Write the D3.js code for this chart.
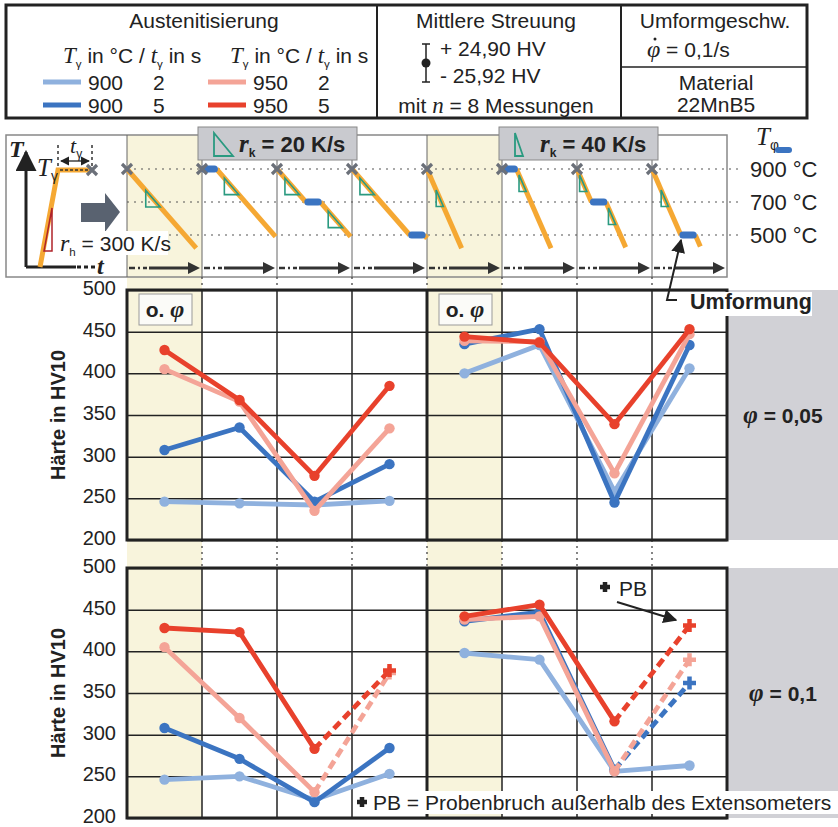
<!DOCTYPE html>
<html>
<head>
<meta charset="utf-8">
<script src="https://cdn.jsdelivr.net/npm/d3@7"></script>
<style>
  body { margin: 0; background: #fff; }
  svg { display: block; }
  text { font-family: "Liberation Sans", Arial, sans-serif; fill: #222; }
  .serif { font-family: "Liberation Serif", "DejaVu Serif", serif; font-style: italic; }
</style>
</head>
<body>
<svg></svg>
<script>
var width = 838;
var height = 827;

// series: austenitisation temperature / time
var seriesTemp = [900, 900, 950, 950];
var seriesTime = [2, 5, 2, 5];
var seriesColors = ['#8fb1de', '#3b74c1', '#f4a497', '#e8412c'];

// hardness values, one row per series, one value per process column
var hv005_rk20 = [[246, 244, 242, 247], [308, 335, 246, 291], [405, 366, 235, 334], [428, 368, 277, 385]];
var hv005_rk40 = [[400, 434, 258, 406], [435, 453, 245, 434], [439, 438, 280, 447], [444, 437, 339, 453]];
var hv01_rk20  = [[246, 250, 222, 253], [308, 271, 219, 284], [405, 320, 231, 374], [428, 423, 283, 377]];
var hv01_rk40  = [[398, 390, 256, 263], [436, 447, 258, 362], [438, 442, 256, 390], [442, 456, 316, 431]];
// Probenbruch (sample broke outside extensometer) on last column
var pb005_rk20 = [false, false, false, false];
var pb005_rk40 = [false, false, false, false];
var pb01_rk20  = [false, false, true, true];
var pb01_rk40  = [false, true, true, true];

var hvTicks = [200, 250, 300, 350, 400, 450, 500];
var tempTicks = [900, 700, 500];

// process schedule per column
var procPhiT = [null, 900, 700, 500, null, 900, 700, 500];
var procEndT = [420, 490, 490, 480, 420, 420, 425, 430];
var procRate = [20, 20, 20, 20, 40, 40, 40, 40];
var holdTime = 5;

var svg = d3.select('svg')
    .attr('width', width)
    .attr('height', height);

var defs = svg.append('defs');
defs.append('marker')
    .attr('id', 'arr')
    .attr('viewBox', '0 0 10 10')
    .attr('refX', 9).attr('refY', 5)
    .attr('markerWidth', 7).attr('markerHeight', 7)
    .attr('orient', 'auto-start-reverse')
  .append('path')
    .attr('d', 'M0,0 L10,5 L0,10 z')
    .attr('fill', '#222');

// helper for text with italic serif parts and subscripts
function rich(g, x, y, parts, opts) {
  opts = opts || {};
  var size = opts.size || 21;
  var t = g.append('text')
      .attr('x', x).attr('y', y)
      .attr('font-size', size)
      .attr('font-weight', opts.bold ? 'bold' : null)
      .attr('text-anchor', opts.anchor || 'start');
  var shift = 0;
  parts.forEach(function(p) {
    var s = t.append('tspan').text(p.t);
    var dy = 0;
    if (p.sub) { dy = 5 - shift; shift = 5; s.attr('font-size', size * 0.55); }
    else if (shift) { dy = -shift; shift = 0; }
    if (dy) s.attr('dy', dy);
    if (p.it) s.attr('class', 'serif');
    if (p.size) s.attr('font-size', p.size);
  });
  return t;
}

function plus(g, x, y, r, color) {
  g.append('path')
      .attr('d', 'M' + (x - r) + ',' + y + 'H' + (x + r) + 'M' + x + ',' + (y - r) + 'V' + (y + r))
      .attr('stroke', color)
      .attr('stroke-width', 4.5)
      .attr('fill', 'none');
}

// ---------- header table ----------
var head = svg.append('g');
head.append('rect')
    .attr('x', 6).attr('y', 5).attr('width', 801).attr('height', 113)
    .attr('fill', '#fff').attr('stroke', '#222').attr('stroke-width', 3);
head.selectAll('line.div')
    .data([377, 621])
    .enter().append('line')
    .attr('x1', function(d) { return d; }).attr('x2', function(d) { return d; })
    .attr('y1', 5).attr('y2', 118)
    .attr('stroke', '#222').attr('stroke-width', 2);
head.append('line')
    .attr('x1', 621).attr('x2', 807).attr('y1', 67).attr('y2', 67)
    .attr('stroke', '#222').attr('stroke-width', 1.5);

head.append('text').attr('x', 204).attr('y', 28).attr('font-size', 21)
    .attr('text-anchor', 'middle').text('Austenitisierung');
[63, 230].forEach(function(x) {
  rich(head, x, 63, [{t: 'T', it: true, size: 23}, {t: 'γ', sub: true}, {t: ' in °C / '},
                     {t: 't', it: true, size: 23}, {t: 'γ', sub: true}, {t: ' in s'}]);
});

var legend = head.selectAll('g.leg')
    .data(d3.range(4))
    .enter().append('g')
    .attr('transform', function(i) {
      return 'translate(' + (i < 2 ? 43 : 208) + ',' + (i % 2 ? 113 : 90) + ')';
    });
legend.append('line')
    .attr('x1', 0).attr('x2', 38).attr('y1', -8).attr('y2', -8)
    .attr('stroke', function(i) { return seriesColors[i]; })
    .attr('stroke-width', 5);
legend.append('text').attr('x', 45).attr('font-size', 21)
    .text(function(i) { return seriesTemp[i]; });
legend.append('text').attr('x', 110).attr('font-size', 21)
    .text(function(i) { return seriesTime[i]; });

head.append('text').attr('x', 496).attr('y', 28).attr('font-size', 21)
    .attr('text-anchor', 'middle').text('Mittlere Streuung');
head.append('path')
    .attr('d', 'M422,44H430M426,44V82M422,82H430')
    .attr('stroke', '#222').attr('stroke-width', 1.5).attr('fill', 'none');
head.append('circle').attr('cx', 426).attr('cy', 63).attr('r', 4.5).attr('fill', '#222');
head.append('text').attr('x', 440).attr('y', 56).attr('font-size', 21).text('+ 24,90 HV');
head.append('text').attr('x', 440).attr('y', 83).attr('font-size', 21).text('- 25,92 HV');
rich(head, 496, 113, [{t: 'mit '}, {t: 'n', it: true, size: 23}, {t: ' = 8 Messungen'}], {anchor: 'middle'});

head.append('text').attr('x', 715).attr('y', 28).attr('font-size', 21)
    .attr('text-anchor', 'middle').text('Umformgeschw.');
rich(head, 647, 57, [{t: 'φ', it: true, size: 24}, {t: ' = 0,1/s'}]);
head.append('circle').attr('cx', 655).attr('cy', 39).attr('r', 1.5).attr('fill', '#222');
head.append('text').attr('x', 716).attr('y', 90).attr('font-size', 21)
    .attr('text-anchor', 'middle').text('Material');
head.append('text').attr('x', 716).attr('y', 112).attr('font-size', 21)
    .attr('text-anchor', 'middle').text('22MnB5');

// ---------- scales ----------
var x = d3.scaleBand().domain(d3.range(8)).range([127, 727]);
var yT = d3.scaleLinear().domain([500, 900]).range([235, 169]);
var yTop = d3.scaleLinear().domain([200, 500]).range([540, 290]);
var yBot = d3.scaleLinear().domain([200, 500]).range([818, 568]);

// yellow reference columns
svg.selectAll('rect.ref')
    .data([0, 4])
    .enter().append('rect')
    .attr('x', function(d) { return x(d); })
    .attr('y', 135)
    .attr('width', x.bandwidth())
    .attr('height', 818 - 135)
    .attr('fill', '#f8f4dc');

// ---------- process strip ----------
var strip = svg.append('g');
strip.append('rect')
    .attr('x', 6).attr('y', 135).attr('width', 721).attr('height', 142)
    .attr('fill', 'none').attr('stroke', '#888').attr('stroke-width', 1.5);
strip.selectAll('line.col')
    .data(d3.range(8))
    .enter().append('line')
    .attr('x1', function(d) { return x(d); }).attr('x2', function(d) { return x(d); })
    .attr('y1', 135).attr('y2', 277)
    .attr('stroke', '#666').attr('stroke-width', 1);
strip.selectAll('line.temp')
    .data(tempTicks)
    .enter().append('line')
    .attr('x1', 127).attr('x2', 743)
    .attr('y1', function(d) { return yT(d); }).attr('y2', function(d) { return yT(d); })
    .attr('stroke', '#555').attr('stroke-width', 1.2).attr('stroke-dasharray', '2,5');
strip.selectAll('text.temp')
    .data(tempTicks)
    .enter().append('text')
    .attr('x', 750).attr('y', function(d) { return yT(d) + 8; })
    .attr('font-size', 22)
    .text(function(d) { return d + ' °C'; });
rich(strip, 756, 145, [{t: 'T', it: true}, {t: 'φ', sub: true}], {size: 25});
strip.append('line').attr('x1', 778).attr('x2', 789).attr('y1', 150).attr('y2', 150)
    .attr('stroke', '#3b74c1').attr('stroke-width', 6).attr('stroke-linecap', 'round');

// left sketch: heating
strip.append('path').attr('d', 'M26,267V152').attr('stroke', '#222').attr('stroke-width', 3)
    .attr('marker-end', 'url(#arr)');
strip.append('path').attr('d', 'M26,267H76').attr('stroke', '#222').attr('stroke-width', 3);
strip.append('path').attr('d', 'M77,267H95').attr('stroke', '#222').attr('stroke-width', 3)
    .attr('stroke-dasharray', '4,3');
rich(strip, 9, 157, [{t: 'T', it: true}], {size: 24, bold: true});
rich(strip, 97, 274, [{t: 't', it: true}], {size: 24, bold: true});
strip.append('path').attr('d', 'M40,267L58,170H90')
    .attr('stroke', '#f5a833').attr('stroke-width', 5).attr('fill', 'none');
strip.append('path').attr('d', 'M60,170H90')
    .attr('stroke', '#333').attr('stroke-width', 1.5).attr('stroke-dasharray', '3,2');
strip.append('path').attr('d', 'M44,251H52V208Z')
    .attr('stroke', '#b0232a').attr('stroke-width', 1.5).attr('fill', 'none');
rich(strip, 37, 176, [{t: 'T', it: true}, {t: 'γ', sub: true}], {size: 25});
strip.append('path').attr('d', 'M58,145V166M92,145V166')
    .attr('stroke', '#333').attr('stroke-width', 1.5).attr('stroke-dasharray', '3,3');
strip.append('path').attr('d', 'M61,161H89')
    .attr('stroke', '#222').attr('stroke-width', 1.3)
    .attr('marker-end', 'url(#arr)').attr('marker-start', 'url(#arr)');
rich(strip, 70, 153, [{t: 't', it: true}, {t: 'γ', sub: true}], {size: 22});
strip.append('path').attr('d', 'M81,203H105V193L120,212L105,232V222H81Z').attr('fill', '#596270');
strip.append('rect').attr('x', 58).attr('y', 231).attr('width', 110).attr('height', 24).attr('fill', '#fff');
rich(strip, 60, 251, [{t: 'r', it: true, size: 24}, {t: 'h', sub: true}, {t: ' = 300 K/s'}], {size: 21});

function cross(g, cx, cy) {
  g.append('path')
      .attr('d', 'M' + (cx - 5) + ',' + (cy - 5) + 'L' + (cx + 5) + ',' + (cy + 5) +
                 'M' + (cx - 5) + ',' + (cy + 5) + 'L' + (cx + 5) + ',' + (cy - 5))
      .attr('stroke', '#6b7079').attr('stroke-width', 3.2);
}
cross(strip, 92, 170);

// cooling paths per column
var triOffset = [130, 55, 55, 55, 127, 36, 36, 127];
d3.range(8).forEach(function(i) {
  var tx = d3.scaleLinear().domain([0, 26]).range([x(i), x(i) + x.bandwidth()]);
  var rate = procRate[i];
  var segs = [], holds = [];
  var t = 0, T = 900;
  if (procPhiT[i] !== null) {
    var tc = (T - procPhiT[i]) / rate;
    if (tc > 0) segs.push({t0: t, T0: T, T1: procPhiT[i]});
    t += tc; T = procPhiT[i];
    holds.push({t0: t, T: T});
    t += holdTime;
  }
  segs.push({t0: t, T0: T, T1: procEndT[i]});

  segs.forEach(function(s) {
    var t1 = s.t0 + (s.T0 - s.T1) / rate;
    strip.append('line')
        .attr('x1', tx(s.t0)).attr('y1', yT(s.T0))
        .attr('x2', tx(t1)).attr('y2', yT(s.T1))
        .attr('stroke', '#f5a833').attr('stroke-width', 5);
    var off = triOffset[i];
    var TA = s.T0 - off, TB = TA - 100;
    if (TB >= s.T1) {
      var tA = s.t0 + off / rate, tB = tA + 100 / rate;
      strip.append('path')
          .attr('d', 'M' + tx(tA) + ',' + yT(TA) + 'L' + tx(tA) + ',' + yT(TB) + 'L' + tx(tB) + ',' + yT(TB) + 'Z')
          .attr('fill', 'none').attr('stroke', '#2a9a80').attr('stroke-width', 1.6);
    }
  });
  holds.forEach(function(h) {
    strip.append('line')
        .attr('x1', tx(h.t0) + 2).attr('x2', tx(h.t0 + holdTime) - 2)
        .attr('y1', yT(h.T)).attr('y2', yT(h.T))
        .attr('stroke', '#3b74c1').attr('stroke-width', 7).attr('stroke-linecap', 'round');
  });
  cross(strip, x(i), yT(900));

  // time arrow
  var x0 = x(i);
  strip.append('path').attr('d', 'M' + (x0 + 2) + ',268H' + (x0 + 20))
      .attr('stroke', '#333').attr('stroke-width', 2.5).attr('stroke-dasharray', '6,3,2,3');
  strip.append('path').attr('d', 'M' + (x0 + 22) + ',268H' + (x0 + 62))
      .attr('stroke', '#333').attr('stroke-width', 3);
  strip.append('path')
      .attr('d', 'M' + (x0 + 61) + ',262L' + (x0 + 73) + ',268L' + (x0 + 61) + ',274Z')
      .attr('fill', '#333');
});

// rate label boxes
[{x0: 198, rate: 20, w: 19}, {x0: 499, rate: 40, w: 8}].forEach(function(b) {
  var g = svg.append('g');
  g.append('rect').attr('x', b.x0).attr('y', 127).attr('width', 159).attr('height', 33)
      .attr('fill', '#c9cacf').attr('stroke', '#888').attr('stroke-width', 1);
  g.append('path')
      .attr('d', 'M' + (b.x0 + 16) + ',133V156H' + (b.x0 + 16 + b.w) + 'Z')
      .attr('fill', 'none').attr('stroke', '#2a9a80').attr('stroke-width', 1.8);
  rich(g, b.x0 + 41, 152, [{t: 'r', it: true, size: 25}, {t: 'k', sub: true}, {t: ' = ' + b.rate + ' K/s'}],
       {size: 22, bold: true});
});

// dotted connectors between strip and charts
var connectors = [1, 2, 3, 4, 5, 6, 7];
[[277, 290], [540, 568]].forEach(function(r) {
  svg.selectAll(null)
      .data(connectors)
      .enter().append('line')
      .attr('x1', function(d) { return x(d); }).attr('x2', function(d) { return x(d); })
      .attr('y1', r[0]).attr('y2', r[1])
      .attr('stroke', '#444').attr('stroke-width', 1.3).attr('stroke-dasharray', '2,4');
});

// ---------- hardness panels ----------
function panel(y, dataL, dataR, pbL, pbR, phiLabel, showNoPhi) {
  var g = svg.append('g');
  var top = y.range()[1], bottom = y.range()[0];

  g.append('rect')
      .attr('x', 728).attr('y', top).attr('width', 110).attr('height', bottom - top)
      .attr('fill', '#d1d1d6');
  rich(g, 783, (top + bottom) / 2 + 8, [{t: 'φ', it: true, size: 25}, {t: ' = ' + phiLabel}],
       {size: 21, bold: true, anchor: 'middle'});

  g.append('g')
      .attr('transform', 'translate(127,0)')
      .call(d3.axisLeft(y).tickValues(hvTicks).tickSize(-600).tickFormat(''))
      .call(function(a) { a.select('.domain').remove(); })
      .selectAll('line').attr('stroke', '#222').attr('stroke-width', 1.5);
  g.selectAll('line.vg')
      .data([1, 2, 3, 5, 6, 7])
      .enter().append('line')
      .attr('x1', function(d) { return x(d); }).attr('x2', function(d) { return x(d); })
      .attr('y1', top).attr('y2', bottom)
      .attr('stroke', '#222').attr('stroke-width', 1.5);
  g.append('rect')
      .attr('x', 127).attr('y', top).attr('width', 600).attr('height', bottom - top)
      .attr('fill', 'none').attr('stroke', '#222').attr('stroke-width', 3);
  g.append('line')
      .attr('x1', 427).attr('x2', 427).attr('y1', top).attr('y2', bottom)
      .attr('stroke', '#222').attr('stroke-width', 3);

  g.append('g')
      .attr('transform', 'translate(127,0)')
      .call(d3.axisLeft(y).tickValues(hvTicks).tickSize(0).tickPadding(11))
      .call(function(a) { a.select('.domain').remove(); })
      .selectAll('text')
      .attr('font-size', 20).attr('fill', '#333').attr('dy', '0.22em')
      .style('font-family', '"Liberation Sans", Arial, sans-serif');

  g.append('text')
      .attr('transform', 'translate(65,' + ((top + bottom) / 2) + ') rotate(-90)')
      .attr('text-anchor', 'middle').attr('font-size', 20).attr('font-weight', 'bold')
      .text('Härte in HV10');

  if (showNoPhi) {
    [0, 4].forEach(function(c) {
      var bx = x(c) + 12;
      g.append('rect').attr('x', bx).attr('y', top + 4).attr('width', 53).attr('height', 31)
          .attr('fill', '#fbfbf8').attr('stroke', '#999').attr('stroke-width', 1);
      rich(g, bx + 26, top + 27, [{t: 'o. '}, {t: 'φ', it: true, size: 24}], {size: 21, bold: true, anchor: 'middle'});
    });
  }

  [[dataL, pbL, 0], [dataR, pbR, 4]].forEach(function(grp) {
    var data = grp[0], pb = grp[1], off = grp[2];
    var cx = function(j) { return x(j + off) + x.bandwidth() / 2; };
    data.forEach(function(vals, s) {
      var color = seriesColors[s];
      var line = d3.line()
          .x(function(d, j) { return cx(j); })
          .y(function(d) { return y(d); });
      g.append('path')
          .attr('d', line(vals.slice(0, 3)))
          .attr('fill', 'none').attr('stroke', color).attr('stroke-width', 4.8)
          .attr('stroke-linejoin', 'round');
      g.append('line')
          .attr('x1', cx(2)).attr('y1', y(vals[2]))
          .attr('x2', cx(3)).attr('y2', y(vals[3]))
          .attr('stroke', color).attr('stroke-width', 4.8)
          .attr('stroke-dasharray', pb[s] ? '9,5' : null);
      g.selectAll(null)
          .data(pb[s] ? vals.slice(0, 3) : vals)
          .enter().append('circle')
          .attr('cx', function(d, j) { return cx(j); })
          .attr('cy', function(d) { return y(d); })
          .attr('r', 5.2).attr('fill', color);
      if (pb[s]) plus(g, cx(3), y(vals[3]), 6.5, color);
    });
  });
  return g;
}

panel(yTop, hv005_rk20, hv005_rk40, pb005_rk20, pb005_rk40, '0,05', true);
panel(yBot, hv01_rk20, hv01_rk40, pb01_rk20, pb01_rk40, '0,1', false);

// ---------- annotations ----------
var ann = svg.append('g');
ann.append('rect').attr('x', 686).attr('y', 292).attr('width', 126).attr('height', 24).attr('fill', '#fff');
ann.append('text').attr('x', 690).attr('y', 309).attr('font-size', 21.5).attr('font-weight', 'bold')
    .text('Umformung');
ann.append('path').attr('d', 'M677,300H667L681,240')
    .attr('fill', 'none').attr('stroke', '#222').attr('stroke-width', 2)
    .attr('marker-end', 'url(#arr)');

plus(ann, 605, 587, 5, '#222');
ann.append('text').attr('x', 619).attr('y', 596).attr('font-size', 21).text('PB');
ann.append('line').attr('x1', 617).attr('y1', 602).attr('x2', 676).attr('y2', 620)
    .attr('stroke', '#222').attr('stroke-width', 2).attr('marker-end', 'url(#arr)');

ann.append('rect').attr('x', 353).attr('y', 791).attr('width', 485).attr('height', 23).attr('fill', '#fff');
plus(ann, 362, 802, 5, '#222');
ann.append('text').attr('x', 373).attr('y', 810).attr('font-size', 21)
    .text('PB = Probenbruch außerhalb des Extensometers');
</script>
</body>
</html>
